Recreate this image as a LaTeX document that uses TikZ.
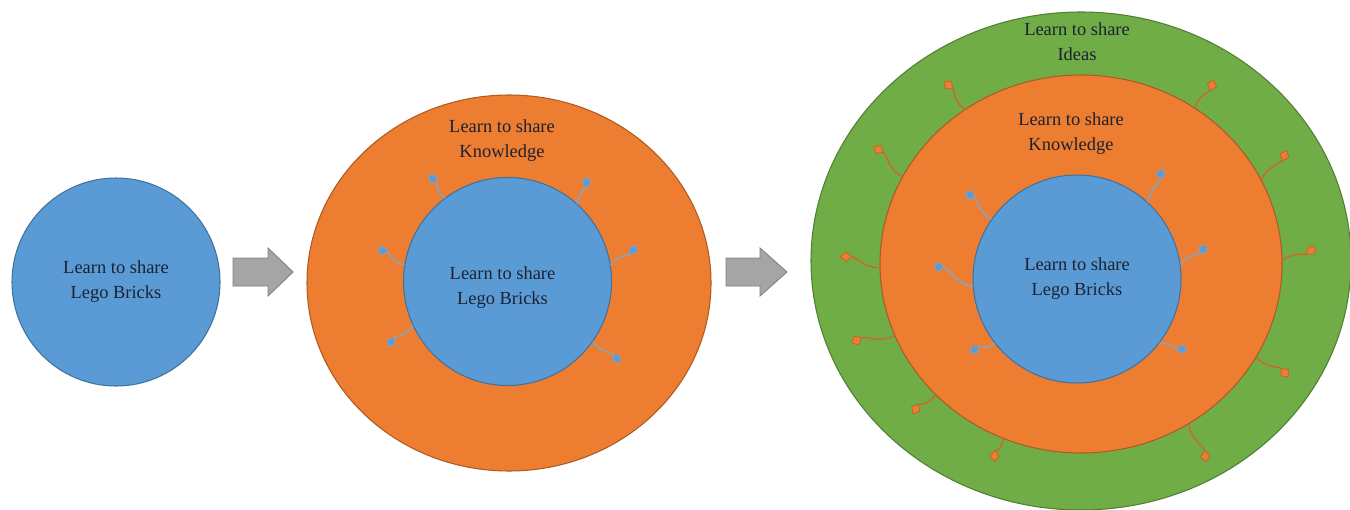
\documentclass[tikz,border=0pt]{standalone}
\usepackage{fontspec}
\setmainfont{Liberation Serif}
\usepackage{xcolor}
\usepackage{tikz}
\usetikzlibrary{shapes.geometric,arrows.meta}
\definecolor{ShareBlue}{HTML}{5B9BD5}
\definecolor{ShareBlueLine}{HTML}{41719C}
\definecolor{ShareOrange}{HTML}{ED7D31}
\definecolor{ShareOrangeLine}{HTML}{AE5A21}
\definecolor{ShareGreen}{HTML}{70AD47}
\definecolor{ShareGreenLine}{HTML}{507E32}
\definecolor{ShareGrey}{HTML}{A5A5A5}
\definecolor{ShareGreyLine}{HTML}{7F7F7F}
\definecolor{ShareLink}{HTML}{9A9DA3}
\definecolor{ShareInk}{HTML}{1C2230}

\tikzset{
  sharetext/.style={font=\fontsize{10.5}{14.2}\selectfont,text=ShareInk,align=center},
  bricks/.style={circle,sharetext,fill=ShareBlue,draw=ShareBlueLine,line width=.6pt,minimum size=4.16cm,inner sep=0pt},
  ring/.style={ellipse,inner sep=0pt,line width=.6pt},
  bluelink/.style={ShareLink,line width=1.1pt,-{Diamond[length=7pt,width=6pt,fill=ShareBlue,color=ShareLink,line width=.5pt]}},
  orangelink/.style={ShareOrange!85!black,line width=.8pt,-{Diamond[length=7pt,width=6pt,fill=ShareOrange,color=ShareOrange!80!black,line width=.4pt]}},
  blockarrow/.style={fill=ShareGrey,draw=ShareGreyLine,line width=.5pt}
}

\begin{document}
\begin{tikzpicture}[x=1cm,y=1cm]
\path[use as bounding box] (0,0) rectangle (27.00,10.18);

% first stage
\node[bricks] (bricks1) at (2.32,4.54) {Learn to share\\Lego Bricks};
\filldraw[blockarrow] (4.66,4.46) -- (5.36,4.46) -- (5.36,4.26) -- (5.86,4.74) -- (5.36,5.22) -- (5.36,5.02) -- (4.66,5.02) -- cycle;

% second stage
\node[ring,fill=ShareOrange,draw=ShareOrangeLine,minimum width=8.08cm,minimum height=7.52cm] (know2) at (10.18,4.52) {};
\node[bricks] (bricks2) at (10.15,4.55) {};
\node[sharetext] (brickstext2) at (10.05,4.42) {Learn to share\\Lego Bricks};
\node[sharetext] (knowtext2) at (10.04,7.36) {Learn to share\\Knowledge};
\draw[bluelink] (bricks2.127) to[out=144,in=324] ++(126:0.57);
\draw[bluelink] (bricks2.48) to[out=90,in=270] ++(72:0.58);
\draw[bluelink] (bricks2.171) to[out=168,in=348] ++(150:0.64);
\draw[bluelink] (bricks2.9) to[out=56,in=236] ++(38:0.66);
\draw[bluelink] (bricks2.205) to[out=239,in=59] ++(221:0.66);
\draw[bluelink] (bricks2.325) to[out=302,in=122] ++(320:0.70);
\filldraw[blockarrow] (14.52,4.46) -- (15.20,4.46) -- (15.20,4.26) -- (15.74,4.74) -- (15.20,5.22) -- (15.20,5.02) -- (14.52,5.02) -- cycle;

% third stage
\node[ring,fill=ShareGreen,draw=ShareGreenLine,minimum width=10.80cm,minimum height=9.96cm] (ideas3) at (21.62,4.96) {};
\node[ring,fill=ShareOrange,draw=ShareOrangeLine,minimum width=8.04cm,minimum height=7.56cm] (know3) at (21.62,4.90) {};
\node[bricks] (bricks3) at (21.54,4.60) {Learn to share\\Lego Bricks};
\node[sharetext] (knowtext3) at (21.42,7.50) {Learn to share\\Knowledge};
\node[sharetext] (ideastext3) at (21.54,9.34) {Learn to share\\Ideas};
\draw[bluelink] (bricks3.145) to[out=153,in=333] ++(135:0.76);
\draw[bluelink] (bricks3.47) to[out=88,in=268] ++(70:0.74);
\draw[bluelink] (bricks3.184) to[out=171,in=351] ++(153:0.90);
\draw[bluelink] (bricks3.8) to[out=56,in=236] ++(38:0.66);
\draw[bluelink] (bricks3.218) to[out=220,in=40] ++(202:0.54);
\draw[bluelink] (bricks3.322) to[out=8,in=188] ++(350:0.58);
\draw[orangelink] (know3.127) to[out=145,in=325] ++(127:0.70);
\draw[orangelink] (know3.54) to[out=74,in=254] ++(56:0.68);
\draw[orangelink] (know3.154) to[out=152,in=332] ++(134:0.84);
\draw[orangelink] (know3.25) to[out=68,in=248] ++(50:0.78);
\draw[orangelink] (know3.181) to[out=183,in=3] ++(165:0.82);
\draw[orangelink] (know3.1) to[out=41,in=221] ++(23:0.72);
\draw[orangelink] (know3.201) to[out=208,in=28] ++(190:0.88);
\draw[orangelink] (know3.332) to[out=310,in=130] ++(328:0.76);
\draw[orangelink] (know3.222) to[out=238,in=58] ++(220:0.60);
\draw[orangelink] (know3.304) to[out=276,in=96] ++(294:0.84);
\draw[orangelink] (know3.246) to[out=267,in=87] ++(249:0.50);
\end{tikzpicture}
\end{document}
